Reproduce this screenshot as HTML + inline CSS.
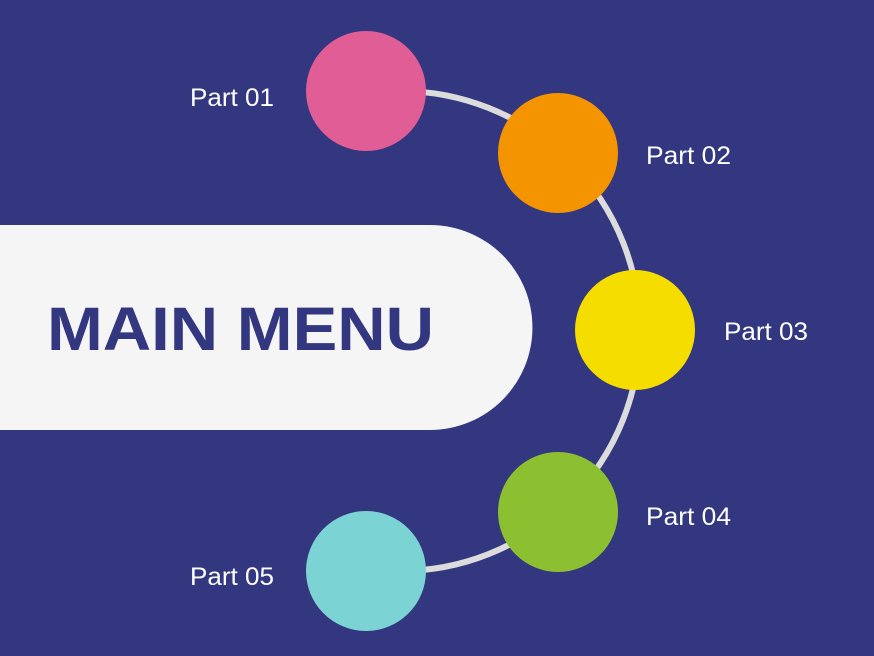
<!DOCTYPE html>
<html><head><meta charset="utf-8"><style>html,body{margin:0;padding:0;background:#33377f;}svg{display:block}</style></head>
<body>
<svg width="874" height="656" viewBox="0 0 874 656" xmlns="http://www.w3.org/2000/svg">
<rect width="874" height="656" fill="#33377f"/>
<path d="M400 91 A240 240 0 0 1 400 571" fill="none" stroke="#dcdcdc" stroke-width="6"/>
<path d="M0 225 H430 A102.5 102.5 0 0 1 430 430 H0 Z" fill="#f5f5f5"/>
<text x="47" y="350" font-family="Liberation Sans, sans-serif" font-weight="bold" font-size="61" fill="#33377f" textLength="387" lengthAdjust="spacingAndGlyphs">MAIN MENU</text>
<circle cx="366" cy="91" r="60" fill="#e05d96"/>
<circle cx="558" cy="153" r="60" fill="#f39400"/>
<circle cx="635" cy="330" r="60" fill="#f5dd00"/>
<circle cx="558" cy="512" r="60" fill="#8cc031"/>
<circle cx="366" cy="571" r="60" fill="#7bd3d3"/>
<g font-family="Liberation Sans, sans-serif" font-size="25" fill="#ffffff">
<text x="190" y="106" textLength="84" lengthAdjust="spacingAndGlyphs">Part 01</text>
<text x="646" y="164" textLength="85" lengthAdjust="spacingAndGlyphs">Part 02</text>
<text x="724" y="340" textLength="84" lengthAdjust="spacingAndGlyphs">Part 03</text>
<text x="646" y="525" textLength="85" lengthAdjust="spacingAndGlyphs">Part 04</text>
<text x="190" y="585" textLength="84" lengthAdjust="spacingAndGlyphs">Part 05</text>
</g>
</svg>
</body></html>
